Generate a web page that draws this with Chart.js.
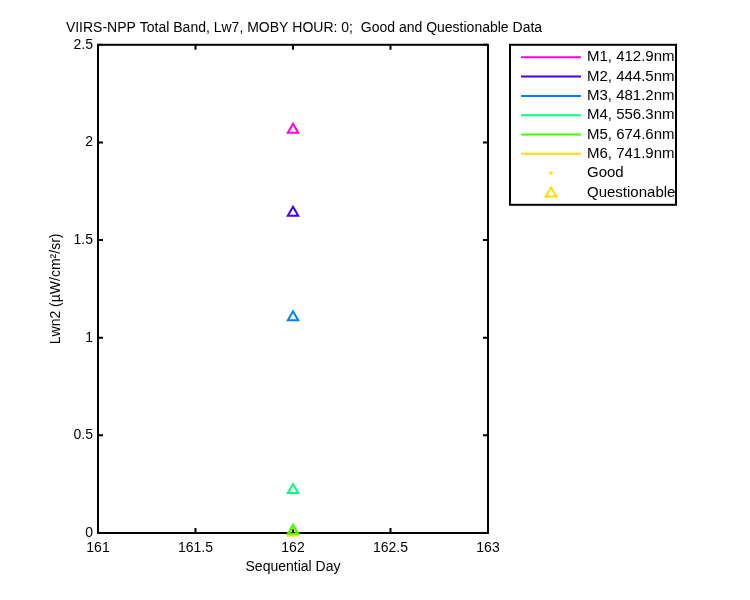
<!DOCTYPE html>
<html>
<head>
<meta charset="utf-8">
<script src="https://cdn.jsdelivr.net/npm/chart.js@4/dist/chart.umd.min.js"></script>
<style>
  html, body { margin: 0; padding: 0; background: #fff; }
</style>
</head>
<body>
<canvas id="chart" width="750" height="600"></canvas>
<script>
// band names and colours (one dataset per band)
const bandLabels = ['M1, 412.9nm', 'M2, 444.5nm', 'M3, 481.2nm', 'M4, 556.3nm', 'M5, 674.6nm', 'M6, 741.9nm'];
const bandColors = ['#ff00e6', '#4000ff', '#0080ff', '#00ff80', '#40ff00', '#ffdd00'];
// questionable points, all on day 162
const dayValues = [162, 162, 162, 162, 162, 162];
const lwnValues = [2.065, 1.64, 1.105, 0.22, 0.012, 0.003];
const statusLabels = ['Good', 'Questionable'];
const xTicks = [161, 161.5, 162, 162.5, 163];
const yTicks = [0, 0.5, 1, 1.5, 2, 2.5];

const FONT = 'Liberation Sans, Arial, Helvetica, sans-serif';
Chart.defaults.font.family = FONT;
Chart.defaults.font.size = 14;
Chart.defaults.color = '#000';

const datasets = bandLabels.map(function(label, i) {
    return {
        label: label,
        data: [{ x: dayValues[i], y: lwnValues[i] }],
        borderColor: bandColors[i],
        backgroundColor: 'rgba(0,0,0,0)',
        pointStyle: 'triangle',
        pointRadius: 6,
        pointBorderWidth: 2,
        showLine: false,
        clip: false
    };
});

// MATLAB style box with inward ticks on every side
const framePlugin = {
    id: 'frame',
    beforeDatasetsDraw(chart) {
        const ctx = chart.ctx;
        const a = chart.chartArea;
        const xs = chart.scales.x, ys = chart.scales.y;
        const tl = 5;
        ctx.save();
        ctx.strokeStyle = '#000';
        ctx.lineWidth = 2;
        ctx.strokeRect(a.left, a.top, a.right - a.left, a.bottom - a.top);
        ctx.beginPath();
        xTicks.forEach(function(v) {
            const px = xs.getPixelForValue(v);
            ctx.moveTo(px, a.bottom); ctx.lineTo(px, a.bottom - tl);
            ctx.moveTo(px, a.top); ctx.lineTo(px, a.top + tl);
        });
        yTicks.forEach(function(v) {
            const py = ys.getPixelForValue(v);
            ctx.moveTo(a.left, py); ctx.lineTo(a.left + tl, py);
            ctx.moveTo(a.right, py); ctx.lineTo(a.right - tl, py);
        });
        ctx.stroke();
        ctx.restore();
    },
    afterDraw(chart) {
        // legend box to the right of the axes
        const ctx = chart.ctx;
        const a = chart.chartArea;
        const left = a.right + 22, top = a.top, w = 166, h = 160;
        const step = 19.3;
        ctx.save();
        ctx.fillStyle = '#fff';
        ctx.fillRect(left, top, w, h);
        ctx.strokeStyle = '#000';
        ctx.lineWidth = 2;
        ctx.strokeRect(left, top, w, h);
        ctx.font = '15px ' + FONT;
        ctx.textBaseline = 'middle';
        ctx.textAlign = 'left';
        bandLabels.forEach(function(label, i) {
            const y = top + 12.5 + i * step;
            ctx.strokeStyle = bandColors[i];
            ctx.lineWidth = 2;
            ctx.beginPath();
            ctx.moveTo(left + 11, y); ctx.lineTo(left + 71, y);
            ctx.stroke();
            ctx.fillStyle = '#000';
            ctx.fillText(label, left + 77, y);
        });
        const mark = bandColors[bandColors.length - 1];
        statusLabels.forEach(function(label, j) {
            const y = top + 12.5 + (bandLabels.length + j) * step;
            const cx = left + 41;
            if (j === 0) {
                ctx.fillStyle = mark;
                ctx.fillRect(cx - 1.5, y - 1.5, 3, 3);
            } else {
                ctx.strokeStyle = mark;
                ctx.lineWidth = 2;
                ctx.beginPath();
                ctx.moveTo(cx, y - 5);
                ctx.lineTo(cx + 5.5, y + 4);
                ctx.lineTo(cx - 5.5, y + 4);
                ctx.closePath();
                ctx.stroke();
            }
            ctx.fillStyle = '#000';
            ctx.fillText(label, left + 77, y);
        });
        ctx.restore();
    }
};

new Chart(document.getElementById('chart').getContext('2d'), {
    type: 'scatter',
    data: { datasets: datasets },
    options: {
        responsive: false,
        devicePixelRatio: 1,
        animation: false,
        layout: { padding: { left: 44, right: 186, top: 0, bottom: 0 } },
        plugins: {
            legend: { display: false },
            tooltip: { enabled: false },
            title: {
                display: true,
                text: 'VIIRS-NPP Total Band, Lw7, MOBY HOUR: 0;  Good and Questionable Data',
                color: '#000',
                font: { size: 14, weight: 'normal' },
                padding: { top: 20, bottom: 8 }
            }
        },
        scales: {
            x: {
                type: 'linear',
                min: 161,
                max: 163,
                afterBuildTicks: function(s) { s.ticks = xTicks.map(function(v) { return { value: v }; }); },
                afterFit: function(s) { s.height = 67; },
                grid: { display: false, drawTicks: false },
                border: { display: false },
                ticks: { padding: 7, maxRotation: 0, autoSkip: false, callback: function(v) { return String(v); } },
                title: { display: true, text: 'Sequential Day', padding: { top: 0, bottom: 24 } }
            },
            y: {
                min: 0,
                max: 2.5,
                afterBuildTicks: function(s) { s.ticks = yTicks.map(function(v) { return { value: v }; }); },
                afterFit: function(s) { s.width = 54; },
                grid: { display: false, drawTicks: false },
                border: { display: false },
                ticks: { padding: 5, autoSkip: false, callback: function(v) { return String(v); } },
                title: { display: true, text: 'Lwn2 (µW/cm²/sr)', padding: { top: 4, bottom: 4 } }
            },
            y2: {
                position: 'right',
                min: 0,
                max: 2.5,
                afterFit: function(s) { s.width = 76; },
                grid: { display: false, drawTicks: false },
                border: { display: false },
                ticks: { display: false }
            }
        }
    },
    plugins: [framePlugin]
});
</script>
</body>
</html>
